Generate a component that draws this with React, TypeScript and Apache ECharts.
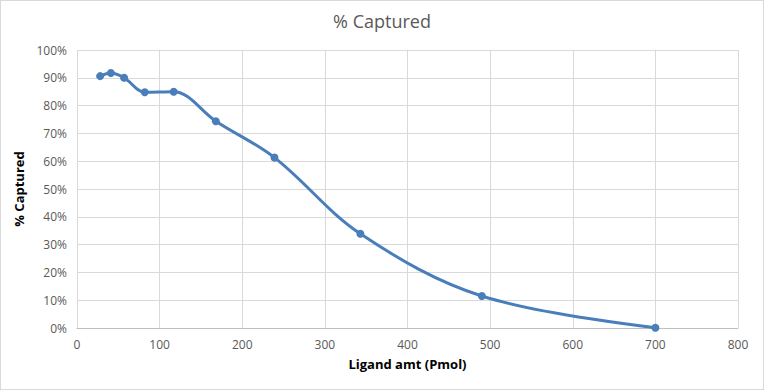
import React, { useEffect, useRef } from "react";
import * as echarts from "echarts";

const ligandAmt = [28, 41, 57, 82, 117, 168, 239, 343, 490, 700];
const pctCaptured = [90.6, 91.7, 90.0, 84.8, 85.0, 74.4, 61.3, 33.9, 11.5, 0.1];
const chartTitle = "% Captured";
const xAxisTitle = "Ligand amt (Pmol)";
const yAxisTitle = "% Captured";

export default function App() {
  const ref = useRef<HTMLDivElement>(null);
  useEffect(() => {
    if (!ref.current) return;
    const chart = echarts.init(ref.current, null, { renderer: "svg" });
    const font = "Open Sans, Liberation Sans, sans-serif";
    chart.setOption({
      animation: false,
      backgroundColor: "#ffffff",
      title: {
        text: chartTitle,
        left: "center",
        top: 6,
        textStyle: { color: "#595959", fontSize: 18, fontWeight: "normal", fontFamily: font },
      },
      grid: { left: 76, right: 25, top: 49, bottom: 61 },
      xAxis: {
        type: "value",
        min: 0,
        max: 800,
        interval: 100,
        name: xAxisTitle,
        nameLocation: "middle",
        nameGap: 29,
        nameTextStyle: { color: "#000", fontWeight: "bold", fontSize: 13, fontFamily: font },
        axisLine: { show: true, lineStyle: { color: "#bfbfbf" } },
        axisTick: { show: false },
        axisLabel: { color: "#595959", fontSize: 12, margin: 10, fontFamily: font },
        splitLine: { show: true, lineStyle: { color: "#d9d9d9" } },
      },
      yAxis: {
        type: "value",
        min: 0,
        max: 100,
        interval: 10,
        name: yAxisTitle,
        nameLocation: "middle",
        nameGap: 46,
        nameRotate: 90,
        nameTextStyle: { color: "#000", fontWeight: "bold", fontSize: 13, fontFamily: font },
        axisLine: { show: false },
        axisTick: { show: false },
        axisLabel: { color: "#595959", fontSize: 12, margin: 10, formatter: "{value}%", fontFamily: font },
        splitLine: { show: true, lineStyle: { color: "#d9d9d9" } },
      },
      series: [
        {
          type: "line",
          data: ligandAmt.map((x, i) => [x, pctCaptured[i]]),
          smooth: 0.35,
          smoothConstraint: false,
          symbol: "circle",
          symbolSize: 8,
          lineStyle: { color: "#4a7ebb", width: 3 },
          itemStyle: { color: "#4a7ebb" },
        },
      ],
    });
    return () => chart.dispose();
  }, []);
  return (
    <div
      ref={ref}
      style={{
        width: 762,
        height: 388,
        border: "1px solid #d9d9d9",
        position: "absolute",
        left: 0,
        top: 0,
      }}
    />
  );
}
